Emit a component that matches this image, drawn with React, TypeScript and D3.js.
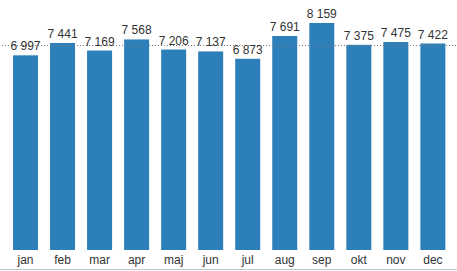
import React from "react";
import * as d3 from "d3";

const months = ["jan", "feb", "mar", "apr", "maj", "jun", "jul", "aug", "sep", "okt", "nov", "dec"];
const values = [6997, 7441, 7169, 7568, 7206, 7137, 6873, 7691, 8159, 7375, 7475, 7422];

const W = 457;
const H = 271;

export default function App() {
  const x = d3.scaleBand<string>().domain(months).range([7, 451.4]).paddingInner(0.325).paddingOuter(0.1625);
  const y = d3.scaleLinear().domain([0, 8159]).range([250, 23]);
  const avg = d3.mean(values) as number;
  const fmt = (v: number) => d3.format(",")(v).replace(/,/g, " ");
  const font = "'Liberation Sans', Arial, sans-serif";
  return (
    <svg width={W} height={H} style={{ position: "absolute", left: 0, top: 0, background: "#fff" }}>
      <line x1={0} x2={W} y1={269.5} y2={269.5} stroke="#c8c8c8" strokeWidth={1} />
      {months.map((m, i) => (
        <rect key={m} x={x(m)} y={y(values[i])} width={x.bandwidth()} height={y(0) - y(values[i])} fill="#2d7fb9" />
      ))}
      <line
        x1={2}
        x2={W}
        y1={Math.round(y(avg)) + 0.5}
        y2={Math.round(y(avg)) + 0.5}
        stroke="#777"
        strokeWidth={1}
        strokeDasharray="1 2"
      />
      {months.map((m, i) => (
        <text
          key={"v" + m}
          x={(x(m) as number) + x.bandwidth() / 2}
          y={y(values[i]) - 5}
          textAnchor="middle"
          fontFamily={font}
          fontSize={12}
          fill="#333"
        >
          {fmt(values[i])}
        </text>
      ))}
      {months.map((m) => (
        <text
          key={"l" + m}
          x={(x(m) as number) + x.bandwidth() / 2}
          y={264}
          textAnchor="middle"
          fontFamily={font}
          fontSize={12}
          fill="#333"
        >
          {m}
        </text>
      ))}
    </svg>
  );
}
